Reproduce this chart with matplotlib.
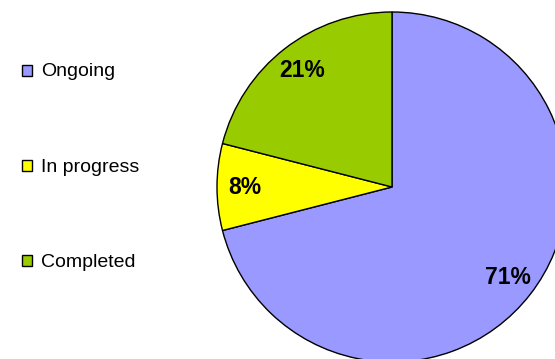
import matplotlib
matplotlib.use("Agg")
import matplotlib.pyplot as plt
from matplotlib.patches import Rectangle

labels = ["Ongoing", "In progress", "Completed"]
values = [71, 8, 21]
colors = ["#9999FF", "#FFFF00", "#99CC00"]

W, H = 555, 359
fig = plt.figure(figsize=(W / 100, H / 100), dpi=100)
ax = fig.add_axes([0, 0, 1, 1])
ax.set_xlim(0, W)
ax.set_ylim(0, H)
ax.set_aspect("equal")
ax.axis("off")

cx, cy, r = 392, H - 187, 175
wedges, texts, autotexts = ax.pie(
    values, colors=colors, startangle=90, counterclock=False,
    center=(cx, cy), radius=r, autopct="%1.0f%%", pctdistance=0.84,
    wedgeprops=dict(edgecolor="black", linewidth=1.0),
    textprops=dict(fontfamily="Liberation Sans", fontsize=16.5, fontweight="bold", color="black"),
)
ax.set_xlim(0, W)
ax.set_ylim(0, H)

# legend
baselines = [76.5, 171.5, 267]
for lab, col, b in zip(labels, colors, baselines):
    ax.add_patch(Rectangle((21.5, H - b + 1), 10.5, 11, facecolor=col,
                           edgecolor="black", linewidth=1.0))
    ax.text(41, H - b, lab, fontfamily="Liberation Sans", fontsize=14,
            va="baseline", ha="left", color="black")

fig.savefig("out.png", dpi=100)
